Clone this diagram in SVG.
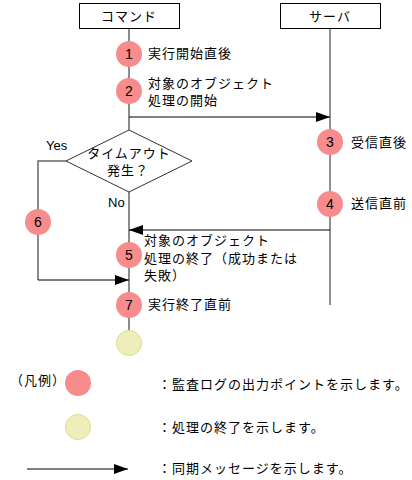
<svg xmlns="http://www.w3.org/2000/svg" width="412" height="480" viewBox="0 0 412 480">
<style>
text{font-family:"Noto Sans CJK JP","Liberation Sans",sans-serif;font-size:13px;fill:#000;letter-spacing:1px}
.lat{font-family:"Liberation Sans Narrow","Liberation Sans",sans-serif;font-size:13px;letter-spacing:0}
.num{font-family:"Liberation Sans Narrow","Liberation Sans",sans-serif;font-size:14px;text-anchor:middle;letter-spacing:0}
.box{fill:#fff;stroke:#000;stroke-width:1}
.life{stroke:#666;stroke-width:1.5;fill:none}
.slife{stroke:#222;stroke-width:1;fill:none}
.msg{stroke:#000;stroke-width:1;fill:none}
.red{fill:#F88C8C}
.yel{fill:#EEEEBB;stroke:#DCDC88;stroke-width:1}
.dia{fill:#fff;stroke:#333;stroke-width:1}
</style>
<defs>
<marker id="ah" markerWidth="14" markerHeight="10" refX="14" refY="5" orient="auto" markerUnits="userSpaceOnUse">
<path d="M0,0 L14,5 L0,10 Z" fill="#000"/>
</marker>
</defs>
<g id="connectors">
<line class="life" x1="129" y1="28" x2="129" y2="130"/>
<line class="life" x1="129" y1="192" x2="129" y2="332"/>
<line class="slife" x1="330" y1="28" x2="330" y2="305"/>
<line class="msg" x1="129" y1="117" x2="330" y2="117" marker-end="url(#ah)"/>
<line class="msg" x1="330" y1="230" x2="129" y2="230" marker-end="url(#ah)"/>
<polyline class="life" points="66,161 38,161 38,280" />
<line class="msg" x1="38" y1="280" x2="129" y2="280" marker-end="url(#ah)"/>
</g>
<g id="command"><rect class="box" x="79.5" y="3.5" width="100" height="25"/><text x="129" y="21" text-anchor="middle">コマンド</text></g>
<g id="server"><rect class="box" x="280.5" y="3.5" width="100" height="25"/><text x="330" y="21" text-anchor="middle">サーバ</text></g>
<g id="decision">
<polygon class="dia" points="129,130 192,161 129,192 66,161"/>
<text x="129" y="158" text-anchor="middle">タイムアウト</text>
<text x="128" y="175" text-anchor="middle">発生？</text>
<text class="lat" x="46" y="150">Yes</text>
<text class="lat" x="108" y="207">No</text>
</g>
<g id="p1"><circle class="red" cx="129" cy="54" r="13"/><text class="num" x="129" y="59">1</text><text x="148" y="58">実行開始直後</text></g>
<g id="p2"><circle class="red" cx="129" cy="91" r="13"/><text class="num" x="129" y="96">2</text><text x="148" y="88">対象のオブジェクト</text><text x="148" y="105">処理の開始</text></g>
<g id="p3"><circle class="red" cx="330" cy="142" r="13"/><text class="num" x="330" y="147">3</text><text x="351" y="147">受信直後</text></g>
<g id="p4"><circle class="red" cx="330" cy="204" r="13"/><text class="num" x="330" y="209">4</text><text x="351" y="208">送信直前</text></g>
<g id="p5"><circle class="red" cx="129" cy="255" r="13"/><text class="num" x="129" y="260">5</text><text x="144" y="245">対象のオブジェクト</text><text x="144" y="263">処理の終了（成功または</text><text x="144" y="280">失敗）</text></g>
<g id="p6"><circle class="red" cx="38" cy="222" r="13"/><text class="num" x="38" y="227">6</text></g>
<g id="p7"><circle class="red" cx="129" cy="305" r="13"/><text class="num" x="129" y="310">7</text><text x="148" y="309">実行終了直前</text></g>
<g id="end"><circle class="yel" cx="129" cy="343" r="12.5"/></g>
<g id="legend">
<text x="10" y="385" letter-spacing="0">（凡例）</text>
<circle class="red" cx="78" cy="383" r="13"/>
<text x="158" y="389">：監査ログの出力ポイントを示します。</text>
<circle class="yel" cx="78" cy="427" r="12.5"/>
<text x="158" y="432">：処理の終了を示します。</text>
<line class="msg" x1="27" y1="469" x2="128" y2="469" marker-end="url(#ah)"/>
<text x="158" y="473">：同期メッセージを示します。</text>
</g>
</svg>
